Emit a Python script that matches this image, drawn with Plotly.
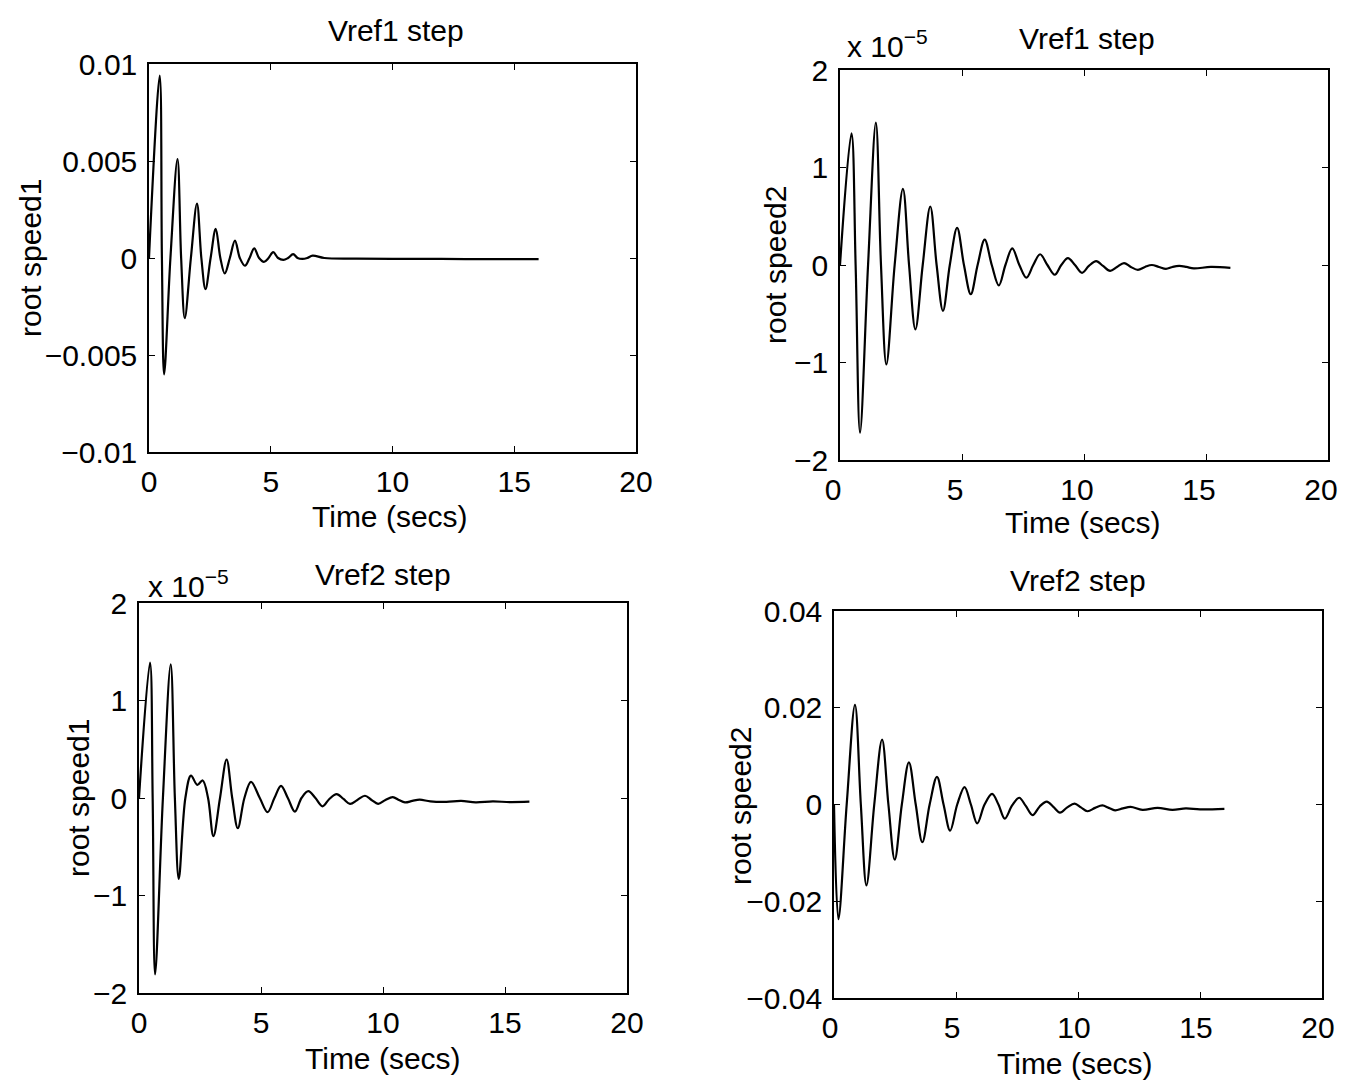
import plotly.graph_objects as go

# ---------------- data ----------------
# Top-left: Vref1 step, root speed1
t_tl = [0, 0.44, 0.53, 0.62, 0.88, 1.17, 1.32, 1.47, 1.72, 1.97, 2.15, 2.32, 2.53, 2.74, 2.93, 3.11, 3.32, 3.53, 3.73, 3.94, 4.13, 4.32, 4.52, 4.72, 4.91, 5.1, 5.3, 5.52, 5.71, 5.92, 6.1, 6.3, 6.5, 6.72, 7.2, 8.5, 10.0, 12.0, 14.0, 16.0]
y_tl = [0, 0.0094, 0.0, -0.0060, 0.0, 0.0051, 0.0, -0.0031, 0.0, 0.0028, 0.0, -0.0016, 0.0, 0.0015, 0.0, -0.0008, 0.0, 0.0009, 0.0, -0.0004, 0.0, 0.0005, 0.0, -0.0002, 0.0, 0.0003, 0.0, -0.0001, 0.0, 0.0002, 0.0, -0.00005, 0.0, 0.00012, 0.0, -0.00003, -0.00004, -0.00005, -0.00006, -0.00006]

# Top-right: Vref1 step, root speed2 (x 10^-5)
t_tr = [0, 0.47, 0.64, 0.82, 1.15, 1.47, 1.68, 1.9, 2.24, 2.58, 2.83, 3.09, 3.39, 3.7, 3.96, 4.22, 4.5, 4.8, 5.08, 5.36, 5.64, 5.93, 6.22, 6.51, 6.78, 7.06, 7.35, 7.64, 7.92, 8.2, 8.5, 8.8, 9.07, 9.34, 9.63, 9.92, 10.2, 10.5, 10.78, 11.07, 11.35, 11.64, 11.92, 12.21, 12.5, 12.78, 13.07, 13.36, 13.63, 13.9, 14.2, 14.5, 15.2, 16.0]
y_tr = [0, 1.35, 0.0, -1.72, 0.0, 1.46, 0.0, -1.02, 0.0, 0.78, 0.0, -0.66, 0.0, 0.60, 0.0, -0.47, 0.0, 0.38, 0.0, -0.30, 0.0, 0.26, 0.0, -0.21, 0.0, 0.17, 0.0, -0.13, 0.0, 0.11, 0.0, -0.10, 0.0, 0.07, 0.0, -0.08, -0.01, 0.04, -0.01, -0.06, -0.02, 0.02, -0.02, -0.05, -0.02, 0.0, -0.02, -0.04, -0.02, -0.01, -0.02, -0.035, -0.02, -0.03]

# Bottom-left: Vref2 step, root speed1 (x 10^-5)
t_bl = [0, 0.45, 0.56, 0.66, 0.98, 1.3, 1.47, 1.63, 1.9, 2.13, 2.39, 2.61, 2.83, 3.05, 3.32, 3.59, 3.82, 4.05, 4.32, 4.59, 4.95, 5.27, 5.55, 5.82, 6.1, 6.39, 6.66, 6.94, 7.23, 7.52, 7.8, 8.1, 8.38, 8.65, 8.95, 9.26, 9.53, 9.8, 10.1, 10.4, 10.65, 10.9, 11.2, 11.5, 11.94, 12.6, 13.2, 13.8, 14.5, 15.2, 16.0]
y_bl = [0, 1.39, 0.0, -1.81, 0.0, 1.37, 0.0, -0.83, 0.0, 0.23, 0.135, 0.18, 0.0, -0.39, 0.0, 0.395, 0.0, -0.31, 0.0, 0.165, 0.0, -0.145, 0.0, 0.125, 0.0, -0.14, 0.0, 0.07, 0.0, -0.085, -0.01, 0.04, -0.01, -0.06, -0.02, 0.023, -0.02, -0.06, -0.02, 0.01, -0.02, -0.045, -0.03, -0.017, -0.035, -0.04, -0.03, -0.045, -0.035, -0.042, -0.038]

# Bottom-right: Vref2 step, root speed2
t_br = [0, 0.18, 0.52, 0.86, 1.1, 1.33, 1.65, 1.97, 2.23, 2.49, 2.78, 3.07, 3.35, 3.62, 3.92, 4.22, 4.49, 4.76, 5.05, 5.35, 5.61, 5.87, 6.17, 6.48, 6.74, 7.0, 7.3, 7.59, 7.86, 8.14, 8.43, 8.72, 8.99, 9.26, 9.56, 9.86, 10.12, 10.39, 10.7, 11.0, 11.26, 11.52, 11.84, 12.16, 12.64, 13.26, 13.87, 14.42, 15.0, 16.0]
y_br = [0, -0.0237, 0.0, 0.0206, 0.0, -0.0167, 0.0, 0.0134, 0.0, -0.0114, 0.0, 0.0087, 0.0, -0.0078, 0.0, 0.0057, 0.0, -0.0054, 0.0, 0.0036, 0.0, -0.0039, 0.0, 0.0022, 0.0, -0.0029, -0.0002, 0.0014, -0.0003, -0.0022, -0.0004, 0.0006, -0.0005, -0.0017, -0.0006, 0.0002, -0.0006, -0.0014, -0.0007, -0.0002, -0.0007, -0.0012, -0.0008, -0.0005, -0.0011, -0.0007, -0.0011, -0.0008, -0.0010, -0.0009]

x_ticks = [0, 5, 10, 15, 20]
x_ticktext = ["0", "5", "10", "15", "20"]
y_ticks_tl = [-0.01, -0.005, 0, 0.005, 0.01]
y_ticktext_tl = ["\u22120.01", "\u22120.005", "0", "0.005", "0.01"]
y_ticks_e5 = [-2, -1, 0, 1, 2]
y_ticktext_e5 = ["\u22122", "\u22121", "0", "1", "2"]
y_ticks_br = [-0.04, -0.02, 0, 0.02, 0.04]
y_ticktext_br = ["\u22120.04", "\u22120.02", "0", "0.02", "0.04"]

titles = ["Vref1 step", "Vref1 step", "Vref2 step", "Vref2 step"]
ylabels = ["root speed1", "root speed2", "root speed1", "root speed2"]
xlabel = "Time (secs)"

# ---------------- layout ----------------
# The page body has an 8px margin, so the figure is drawn 16px smaller and all
# screen positions below are shifted by that margin.
OFF = 8
W, H = 1348 - 2 * OFF, 1088 - 2 * OFF
FONT = "Liberation Sans, Arial, Helvetica, sans-serif"
FS = 30

# plot boxes in screen pixels: (left, right, top, bottom)
boxes = [(149, 636, 64, 452), (840, 1328, 70, 460), (139, 627, 603, 993), (834, 1322, 611, 998)]
# text anchor positions in screen pixels
title_pos = [(396, 30), (1087, 38), (383, 574), (1078, 580)]
xlab_pos = [(390, 516), (1083, 522), (383, 1058), (1075, 1063)]
ylab_pos = [(30, 258), (775, 265), (78, 798), (740, 806)]
mult_pos = {1: (845, 44), 2: (146, 584)}
xshift = [0, -7, 0, -4]

def px(x, y):
    return (x - OFF) / W, 1 - (y - OFF) / H

def dom(b):
    l, r, t, bt = b
    x0, y0 = px(l, bt)
    x1, y1 = px(r, t)
    return [x0, x1], [y0, y1]

series = [(t_tl, y_tl), (t_tr, y_tr), (t_bl, y_bl), (t_br, y_br)]
yranges = [[-0.01, 0.01], [-2, 2], [-2, 2], [-0.04, 0.04]]
yticks = [(y_ticks_tl, y_ticktext_tl), (y_ticks_e5, y_ticktext_e5), (y_ticks_e5, y_ticktext_e5), (y_ticks_br, y_ticktext_br)]

fig = go.Figure()
layout = dict(
    width=W, height=H, margin=dict(l=0, r=0, t=0, b=0, autoexpand=False),
    paper_bgcolor="white", plot_bgcolor="white", showlegend=False,
    font=dict(family=FONT, size=FS, color="black"),
)
annotations = []
tf = dict(family=FONT, size=FS, color="black")
for i, ((tx, ty), b) in enumerate(zip(series, boxes)):
    n = "" if i == 0 else str(i + 1)
    xd, yd = dom(b)
    fig.add_trace(go.Scatter(x=tx, y=ty, mode="lines", xaxis="x" + n, yaxis="y" + n,
                             line=dict(color="black", width=2.2, shape="spline", smoothing=1.0),
                             hoverinfo="skip"))
    axis_common = dict(showline=True, linecolor="black", linewidth=1.5, mirror="ticks",
                       ticks="inside", ticklen=6, tickcolor="black", tickwidth=1,
                       showgrid=False, zeroline=False, fixedrange=True, automargin=False,
                       tickfont=tf)
    layout["xaxis" + n] = dict(axis_common, domain=xd, anchor="y" + n, range=[0, 20],
                               tickvals=x_ticks, ticktext=x_ticktext, ticklabelstandoff=2,
                               ticklabelshift=xshift[i], ticklabeloverflow="allow")
    layout["yaxis" + n] = dict(axis_common, domain=yd, anchor="x" + n, range=yranges[i],
                               tickvals=yticks[i][0], ticktext=yticks[i][1], ticklabelstandoff=4)
    x0, y0 = px(*title_pos[i])
    annotations.append(dict(text=titles[i], xref="paper", yref="paper", x=x0, y=y0,
                            xanchor="center", yanchor="middle", showarrow=False, font=tf))
    x0, y0 = px(*xlab_pos[i])
    annotations.append(dict(text=xlabel, xref="paper", yref="paper", x=x0, y=y0,
                            xanchor="center", yanchor="middle", showarrow=False, font=tf))
    x0, y0 = px(*ylab_pos[i])
    annotations.append(dict(text=ylabels[i], xref="paper", yref="paper", x=x0, y=y0,
                            xanchor="center", yanchor="middle", textangle=-90,
                            showarrow=False, font=tf))
    if i in mult_pos:
        x0, y0 = px(*mult_pos[i])
        annotations.append(dict(text="x 10<sup>\u22125</sup>", xref="paper", yref="paper",
                                x=x0, y=y0, xanchor="left", yanchor="middle",
                                showarrow=False, font=tf))
layout["annotations"] = annotations
fig.update_layout(**layout)
fig.write_html("out.html")
